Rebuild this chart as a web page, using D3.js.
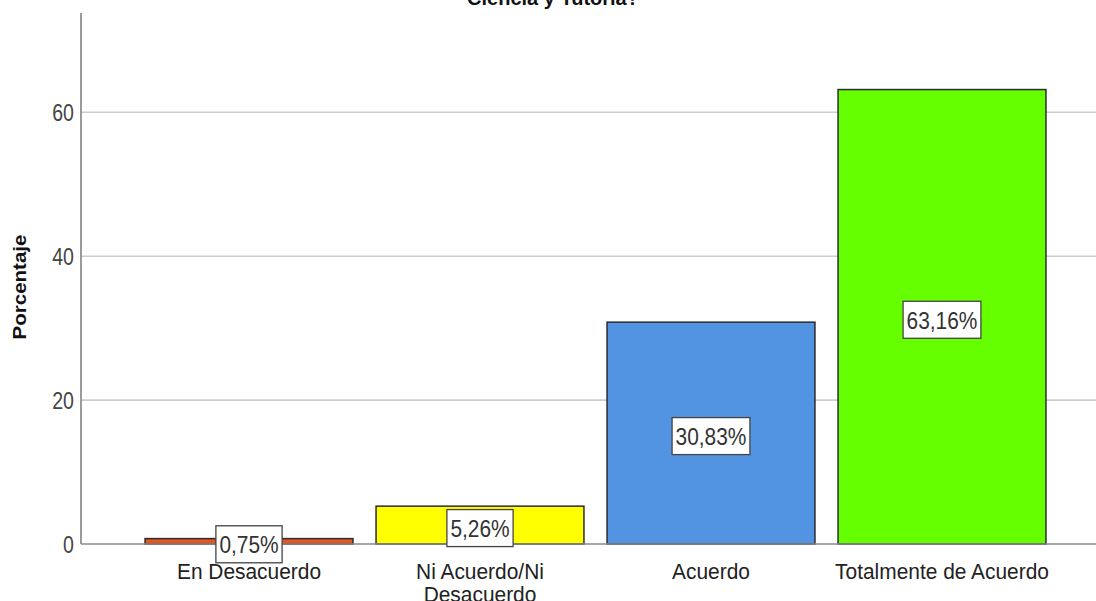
<!DOCTYPE html>
<html>
<head>
<meta charset="utf-8">
<script src="https://cdn.jsdelivr.net/npm/d3@7"></script>
<style>
  html, body { margin: 0; padding: 0; background: #fff; }
  svg { display: block; font-family: Arial, "Liberation Sans", sans-serif; }
</style>
</head>
<body>
<svg id="chart" width="1096" height="601"></svg>
<script>
// Survey response categories and their percentages
const categories = ["En Desacuerdo", "Ni Acuerdo/Ni Desacuerdo", "Acuerdo", "Totalmente de Acuerdo"];
const categoryLines = [["En Desacuerdo"], ["Ni Acuerdo/Ni", "Desacuerdo"], ["Acuerdo"], ["Totalmente de Acuerdo"]];
const percentages = [0.75, 5.26, 30.83, 63.16];
const barColors = ["#e8541e", "#ffff00", "#5294e2", "#66ff00"];
const yTicks = [0, 20, 40, 60];
const chartTitle = "Ciencia y Tutoría?";
const yTitle = "Porcentaje";

const svg = d3.select("#chart");
const W = 1096;
const axisX = 81, baseY = 544, topY = 13;

// Squeeze a text element horizontally by a factor
function condense(sel, factor) {
  sel.each(function () {
    const len = this.getComputedTextLength();
    d3.select(this)
      .attr("textLength", len * factor)
      .attr("lengthAdjust", "spacingAndGlyphs");
  });
  return sel;
}

const x = d3.scaleBand()
  .domain(categories)
  .range([133.5, 1057.5])
  .paddingInner(0.1)
  .paddingOuter(0.05);

const y = d3.scaleLinear()
  .domain([0, 73.8])
  .range([baseY, topY]);

// Title (partly above the visible area)
svg.append("text")
  .attr("x", 553).attr("y", 5)
  .attr("text-anchor", "middle")
  .attr("font-weight", "bold")
  .attr("font-size", 20)
  .attr("fill", "#111")
  .text(chartTitle);

// Horizontal gridlines
svg.append("g")
  .selectAll("line")
  .data(yTicks.filter(d => d > 0))
  .join("line")
  .attr("x1", axisX).attr("x2", W)
  .attr("y1", d => y(d)).attr("y2", d => y(d))
  .attr("stroke", "#cccccc")
  .attr("stroke-width", 1.6);

// Y axis
const yAxis = svg.append("g")
  .attr("transform", `translate(${axisX},0)`)
  .call(d3.axisLeft(y).tickValues(yTicks).tickSize(0).tickPadding(7).tickFormat(d3.format("d")));
yAxis.select(".domain").remove();
yAxis.selectAll("text")
  .attr("font-size", 23)
  .attr("fill", "#444")
  .attr("dy", "0.36em")
  .attr("font-family", "Arial, 'Liberation Sans', sans-serif")
  .call(condense, 0.85);

svg.append("line")
  .attr("x1", axisX).attr("x2", axisX)
  .attr("y1", topY).attr("y2", baseY)
  .attr("stroke", "#9a9a9a")
  .attr("stroke-width", 2);

// Y axis title
svg.append("text")
  .attr("transform", `translate(26,287) rotate(-90)`)
  .attr("text-anchor", "middle")
  .attr("font-weight", "bold")
  .attr("font-size", 19)
  .attr("fill", "#111")
  .text(yTitle)
  .call(condense, 1.08);

// Bars
svg.append("g")
  .selectAll("rect")
  .data(percentages)
  .join("rect")
  .attr("x", (d, i) => x(categories[i]))
  .attr("width", x.bandwidth())
  .attr("y", d => y(d))
  .attr("height", d => y(0) - y(d))
  .attr("fill", (d, i) => barColors[i])
  .attr("stroke", "#2b2b2b")
  .attr("stroke-width", 1.5);

// Baseline
svg.append("line")
  .attr("x1", axisX).attr("x2", W)
  .attr("y1", baseY).attr("y2", baseY)
  .attr("stroke", "#8a8a8a")
  .attr("stroke-width", 1.6);

// X category labels
const xl = svg.append("g");
categoryLines.forEach((lines, i) => {
  const cx = x(categories[i]) + x.bandwidth() / 2;
  lines.forEach((ln, j) => {
    xl.append("text")
      .attr("x", cx).attr("y", 579 + j * 23)
      .attr("text-anchor", "middle")
      .attr("font-size", 22)
      .attr("fill", "#222")
      .text(ln)
      .call(condense, 0.95);
  });
});

// Value labels in boxes at mid-height of each bar
const fmt = v => v.toFixed(2).replace(".", ",") + "%";
const lbl = svg.append("g");
percentages.forEach((v, i) => {
  const cx = x(categories[i]) + x.bandwidth() / 2;
  const cy = (y(v) + y(0)) / 2 + 3;
  const g = lbl.append("g");
  const txt = g.append("text")
    .attr("x", cx).attr("y", cy + 9)
    .attr("text-anchor", "middle")
    .attr("font-size", 24)
    .attr("fill", "#333")
    .text(fmt(v))
    .call(condense, 0.87);
  const tw = +txt.attr("textLength");
  const bw = tw + 7, bh = 37;
  g.insert("rect", "text")
    .attr("x", cx - bw / 2).attr("y", cy - bh / 2)
    .attr("width", bw).attr("height", bh)
    .attr("fill", "#fff")
    .attr("stroke", "#444")
    .attr("stroke-width", 1.3);
});
</script>
</body>
</html>
